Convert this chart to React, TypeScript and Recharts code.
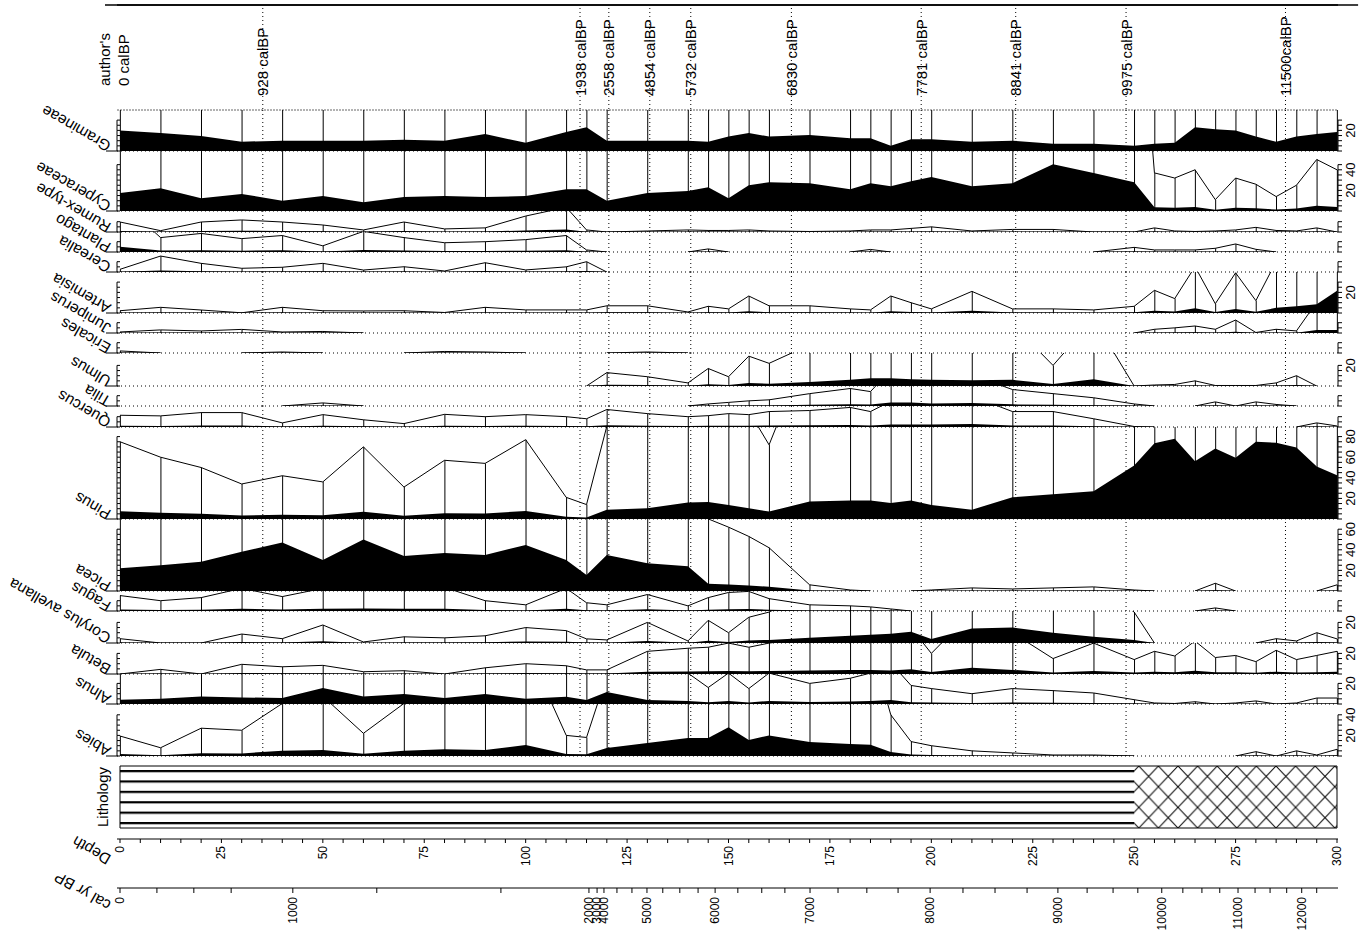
import React from "react";
import {
  ComposedChart,
  Area,
  Bar,
  Line,
  Scatter,
  XAxis,
  YAxis,
  ReferenceLine,
  ReferenceArea,
} from "recharts";

const W = 1365;
const PX = 1.03; // pixels per percent, same for every taxon
const FONT = "'Liberation Sans', Arial, sans-serif";

// sample depths (cm)
const depths = [
  0, 10, 20, 30, 40, 50, 60, 70, 80, 90, 100, 110, 115, 120, 130, 140, 145, 150, 155, 160, 170,
  180, 185, 190, 195, 200, 210, 220, 230, 240, 250, 255, 260, 265, 270, 275, 280, 285, 290, 295, 300,
];

// pollen percentages per taxon, one value per depth
const gramineae = [20, 17.5, 14.5, 9, 10, 10, 10, 11, 10, 16.5, 8, 18.5, 23, 10, 10, 10, 9, 14, 17.5, 14, 15.5, 12.5, 12.5, 5, 11.5, 11.5, 9, 10, 7, 7, 5, 7, 8, 23, 21, 20, 14, 9, 14, 16.5, 18.5];
const cyperaceae = [17.5, 22, 12.5, 16.5, 10, 14.5, 8.5, 13.5, 14.5, 13.5, 14.5, 21, 21, 10, 17.5, 19.5, 23, 12.5, 25, 28, 27, 21, 27, 24, 29, 33, 24, 27, 45.5, 37, 28, 3.7, 3.2, 4.0, 1.1, 3.2, 2.6, 1.4, 2.5, 5.0, 4.0];
const rumex = [0.97, 0.13, 0.97, 1.17, 0.97, 0.68, 0.2, 0.97, 0.3, 0.4, 1.55, 2.4, 0.2, 0, 0.1, 0.2, 0.15, 0.15, 0.2, 0.1, 0.05, 0.1, 0.2, 0.2, 0.35, 0.5, 0.1, 0.25, 0.25, 0, 0, 0.4, 0.1, 0.05, 0.1, 0.2, 0.45, 0.15, 0.1, 0.4, 0];
const plantago = [5, 1.4, 1.8, 1.3, 1.6, 0.6, 2.0, 1.4, 0.9, 1.0, 1.2, 1.6, 0.2, 0, 0, 0, 0.3, 0, 0, 0, 0, 0, 0.25, 0, 0, 0, 0, 0, 0, 0, 0.45, 0.2, 0.2, 0.2, 0.36, 0.78, 0.26, 0, 0, 0, 0];
const cerealia = [0.26, 1.55, 0.84, 0.36, 0.46, 0.84, 0.19, 0.51, 0.1, 0.9, 0.2, 0.5, 1.0, 0, 0, 0, 0, 0, 0, 0, 0, 0, 0, 0, 0, 0, 0, 0, 0, 0, 0, 0, 0, 0, 0, 0, 0, 0, 0, 0, 0];
const artemisia = [0.22, 0.55, 0.29, 0.02, 0.55, 0.22, 0.2, 0.22, 0.05, 0.55, 0.3, 0.3, 0.3, 0.7, 0.7, 0.1, 0.65, 0.4, 1.65, 0.7, 0.7, 0.4, 0.3, 1.65, 1.0, 0.4, 2.1, 0.4, 0.4, 0.3, 0.65, 2.2, 1.4, 4.5, 0.9, 3.9, 1.2, 5, 6.5, 8.5, 21.6];
const juniperus = [0.1, 0.3, 0.2, 0.35, 0.1, 0.15, 0, 0, 0, 0, 0, 0, 0, 0, 0, 0, 0, 0, 0, 0, 0, 0, 0, 0, 0, 0, 0, 0, 0, 0, 0, 0.36, 0.5, 0.68, 0.36, 1.26, 0.05, 0.36, 0.2, 3, 3];
const ericales = [0.2, 0, 0, 0, 0.1, 0, 0, 0, 0.15, 0.1, 0, 0, 0, 0, 0.1, 0, 0, 0, 0, 0, 0, 0, 0, 0, 0, 0, 0, 0, 0, 0, 0, 0, 0, 0, 0, 0, 0, 0, 0, 0, 0];
const ulmus = [0, 0, 0, 0, 0, 0, 0, 0, 0, 0, 0, 0, 0, 1.3, 0.9, 0.3, 1.7, 0.9, 2.9, 2.2, 4, 6, 7.5, 7.5, 6.5, 6, 5.5, 6, 2.0, 6.5, 0, 0.1, 0.15, 0.5, 0.05, 0.05, 0.05, 0.3, 1.0, 0, 0];
const tilia = [0, 0, 0, 0, 0, 0.3, 0, 0, 0, 0, 0, 0, 0, 0, 0, 0, 0.2, 0.35, 0.5, 0.6, 1.2, 1.7, 1.4, 3.5, 3.5, 2.5, 3, 1.6, 1.2, 0.8, 0.2, 0, 0, 0, 0.4, 0, 0.4, 0.15, 0, 0, 0];
const quercus = [1.14, 1.08, 1.4, 1.4, 0.4, 1.2, 0.7, 0.33, 1.23, 1.0, 1.2, 1.0, 0.8, 1.7, 1.3, 1.0, 1.1, 1.3, 1.2, 1.5, 1.6, 1.9, 1.5, 2.5, 2.5, 2.5, 3, 1.5, 1.5, 0.8, 0.05, 0, 0, 0, 0, 0, 0, 0, 0, 0.4, 0.1];
const pinus = [7.5, 6.0, 5.0, 3.4, 4.2, 3.6, 7.0, 3.1, 5.7, 5.4, 7.7, 2.1, 1.4, 9, 10.5, 16, 16.5, 13.5, 10.5, 7.2, 17, 18, 18, 15.5, 18, 13.5, 9, 21, 24, 27, 52, 73.5, 78, 56, 68.5, 59.5, 75, 74, 69.5, 51, 42.5];
const picea = [22, 25, 28.5, 38, 47, 30, 50, 34, 37, 35, 44.7, 30, 15.5, 35, 27, 24, 7, 6.2, 5.3, 4.2, 0.6, 0.1, 0, 0, 0, 0.1, 0.3, 0.2, 0.3, 0.4, 0.1, 0, 0, 0, 0.75, 0, 0, 0, 0, 0, 0.6];
const fagus = [1.5, 1.0, 1.3, 2.2, 1.4, 2.2, 2.4, 2.3, 2.3, 1.0, 0.6, 2.2, 0.8, 0.6, 1.6, 0.5, 1.3, 1.8, 1.9, 1.2, 0.6, 0.5, 0.4, 0.2, 0, 0, 0, 0, 0, 0, 0, 0, 0, 0, 0.3, 0, 0, 0, 0, 0, 0];
const corylus = [0.42, 0, 0, 0.87, 0.42, 1.75, 0.1, 0.6, 0.5, 0.7, 1.5, 1.2, 0.4, 0.3, 2.0, 0.2, 2.2, 1.0, 2.5, 3, 5, 7, 8, 9, 11, 4, 14, 15, 10, 6, 3, 0, 0, 0, 0, 0, 0, 0.42, 0.2, 1.0, 0.4];
const betula = [0, 0.45, 0, 0.94, 0.7, 0.84, 0.22, 0.32, 0, 0.6, 1.0, 0.8, 0.4, 0.4, 2.2, 2.5, 2.6, 3, 2.6, 3, 3.5, 4, 4, 3.5, 4.5, 2, 6, 4, 1.5, 3, 1.4, 2.2, 1.75, 3.2, 1.6, 1.8, 1.2, 2.3, 1.4, 1.8, 2.2];
const alnus = [4.2, 5.1, 7.4, 6.4, 5.8, 15.5, 7.4, 9.7, 5.8, 9.7, 5, 7, 4, 11.6, 4, 3, 1.6, 3, 1.5, 3, 2, 2.5, 3, 4, 1.8, 1.5, 1.0, 1.5, 1.3, 1.07, 0.42, 0.1, 0.05, 0.22, 0, 0.1, 0.3, 0, 0.1, 0.58, 0.58];
const abies = [1.94, 0.8, 2.7, 2.5, 5.1, 5.8, 2.2, 5.1, 6.5, 5.8, 10.7, 2.0, 1.8, 7.8, 12.6, 17.5, 17.5, 28, 15.5, 20, 13.6, 11.6, 11, 4, 1.4, 1.0, 0.5, 0.3, 0.1, 0.1, 0, 0, 0, 0, 0, 0, 0.42, 0, 0.5, 0.1, 0.65];

// dated levels
const dateDepths = [35.2, 113.4, 120.5, 130.6, 140.7, 165.5, 197.5, 220.8, 248.0, 287.3];
const dateLabels = ["928 calBP", "1938 calBP", "2558 calBP", "4854 calBP", "5732 calBP", "6830 calBP", "7781 calBP", "8841 calBP", "9975 calBP", "11500calBP"];

// lithology units: boundaries (cm) and fill kind
const lithoBounds = [0, 250, 300];
const lithoKinds = ["lines", "cross"];

// depth axis ticks
const depthTicks = Array.from({ length: 61 }, (_, i) => i * 5);

// cal yr BP axis, tick positions given in depth
const calTickDepths = [0, 9.1, 18.2, 27.4, 42.6, 63.3, 93.9, 115.6, 117.6, 119.3, 122.5, 126.2, 129.9, 133.8, 138.0, 142.5, 146.7, 152.3, 158.2, 163.9, 170.1, 177.0, 184.1, 191.8, 199.7, 207.8, 215.7, 223.6, 231.2, 238.4, 244.8, 250.9, 256.8, 262.0, 266.7, 271.1, 275.6, 279.8, 283.5, 287.6, 291.3, 295.0];
const calTickLabels = ["0", "", "", "", "1000", "", "", "2000", "3000", "4000", "", "", "5000", "", "", "", "6000", "", "", "", "7000", "", "", "", "8000", "", "", "", "9000", "", "", "", "10000", "", "", "", "11000", "", "", "", "12000", ""];

// panel layout (page y of top/bottom) and left axis extent
const panels = [
  { name: "Gramineae", values: gramineae, top: 110, bottom: 151, axisMax: 30 },
  { name: "Cyperaceae", values: cyperaceae, top: 151, bottom: 211, axisMax: 45 },
  { name: "Rumex-type", values: rumex, top: 211, bottom: 232, axisMax: 10 },
  { name: "Plantago", values: plantago, top: 232, bottom: 252, axisMax: 10 },
  { name: "Cerealia", values: cerealia, top: 252, bottom: 272, axisMax: 10 },
  { name: "Artemisia", values: artemisia, top: 272, bottom: 313, axisMax: 30 },
  { name: "Juniperus", values: juniperus, top: 313, bottom: 333, axisMax: 10 },
  { name: "Ericales", values: ericales, top: 333, bottom: 353, axisMax: 10 },
  { name: "Ulmus", values: ulmus, top: 353, bottom: 386, axisMax: 20 },
  { name: "Tilia", values: tilia, top: 386, bottom: 406, axisMax: 10 },
  { name: "Quercus", values: quercus, top: 406, bottom: 427, axisMax: 10 },
  { name: "Pinus", values: pinus, top: 427, bottom: 519, axisMax: 80 },
  { name: "Picea", values: picea, top: 519, bottom: 591, axisMax: 60 },
  { name: "Fagus", values: fagus, top: 591, bottom: 611, axisMax: 10 },
  { name: "Corylus avellana", values: corylus, top: 611, bottom: 643, axisMax: 20 },
  { name: "Betula", values: betula, top: 643, bottom: 674, axisMax: 20 },
  { name: "Alnus", values: alnus, top: 674, bottom: 704, axisMax: 20 },
  { name: "Abies", values: abies, top: 704, bottom: 756, axisMax: 40 },
];

const depthRows = depths.map((depth) => ({ depth }));
const xPad = { left: 3, right: 1 };

// upside-down, slanted name; (x, y) is where the first letter sits
function upsideLabel(text: string, x: number, y: number) {
  return (
    <g>
      <text
        x={x}
        y={y}
        transform={`rotate(210 ${x} ${y})`}
        fontSize={15.5}
        fontFamily={FONT}
        fill="#000"
      >
        {text}
      </text>
    </g>
  );
}

function Panel({ name, values, top, bottom, axisMax }: { name: string; values: number[]; top: number; bottom: number; axisMax: number }) {
  const h = bottom - top;
  const max = h / PX;
  const step = 5 * PX;
  const data = depths.map((depth, i) => {
    const v = values[i];
    const near = v > 0 || (values[i - 1] ?? 0) > 0 || (values[i + 1] ?? 0) > 0;
    return {
      depth,
      value: v,
      exag: near ? v * 10 : null,
      base: near ? 0 : null,
      stem: Math.min(v * 10, max),
    };
  });
  const ticks: number[] = [];
  for (let t = 0; t <= axisMax; t += 5) ticks.push(t);

  const leftTick = (p: any) => {
    const { x, y, payload } = p;
    const v = payload.value;
    return (
      <g stroke="#000" strokeWidth={1}>
        <line x1={x} x2={x + 3} y1={y} y2={y} />
        {v > 0 && <line x1={x} x2={x} y1={y} y2={y + step} />}
        {v === 0 && <line x1={x - 11} x2={x} y1={y} y2={y} />}
      </g>
    );
  };
  const rightTick = (p: any) => {
    const { x, y, payload } = p;
    const v = payload.value;
    return (
      <g>
        <line x1={x} x2={x + 4} y1={y} y2={y} stroke="#000" />
        {v > 0 && <line x1={x} x2={x} y1={y} y2={y + step} stroke="#000" />}
        {v > 0 && v % 20 === 0 && (
          <text
            x={x + 13}
            y={y}
            transform={`rotate(-90 ${x + 13} ${y})`}
            textAnchor="middle"
            dominantBaseline="central"
            fontSize={13}
            fontFamily={FONT}
            fill="#000"
          >
            {v}
          </text>
        )}
      </g>
    );
  };

  return (
    <div style={{ position: "absolute", left: 0, top }}>
      <ComposedChart width={W} height={h} data={data} margin={{ top: 0, right: 0, bottom: 0, left: 0 }}>
        <XAxis type="number" dataKey="depth" domain={[0, 300]} ticks={[0, 100, 200, 300]} padding={xPad} hide />
        <YAxis
          yAxisId="l"
          orientation="left"
          width={117}
          domain={[0, max]}
          ticks={ticks}
          interval={0}
          allowDataOverflow
          axisLine={false}
          tickLine={false}
          tickSize={0}
          tickMargin={0}
          tick={leftTick}
          label={{ content: () => upsideLabel(name, 112, h - 8) }}
        />
        <YAxis
          yAxisId="r"
          orientation="right"
          width={27}
          domain={[0, max]}
          ticks={ticks}
          interval={0}
          allowDataOverflow
          axisLine={false}
          tickLine={false}
          tickSize={0}
          tickMargin={0}
          tick={rightTick}
        />
        {dateDepths.map((d) => (
          <ReferenceLine key={d} x={d} yAxisId="l" stroke="#000" strokeDasharray="1 3" />
        ))}
        <ReferenceLine y={0} yAxisId="l" stroke="#000" strokeDasharray="1 3" />
        <Area yAxisId="l" type="linear" dataKey="value" fill="#000" fillOpacity={1} stroke="none" isAnimationActive={false} />
        <Bar yAxisId="l" dataKey="stem" barSize={1} fill="#000" isAnimationActive={false} />
        <Line yAxisId="l" type="linear" dataKey="exag" stroke="#000" strokeWidth={1} dot={false} connectNulls={false} isAnimationActive={false} />
        <Line yAxisId="l" type="linear" dataKey="base" stroke="#000" strokeWidth={1} dot={false} connectNulls={false} isAnimationActive={false} />
      </ComposedChart>
    </div>
  );
}

const DateMark = (p: any) => {
  const { cx, cy, payload } = p;
  return (
    <g>
      <line x1={cx} x2={cx} y1={8} y2={cy} stroke="#000" strokeDasharray="1 3" />
      <text
        x={cx}
        y={96}
        transform={`rotate(-90 ${cx} 96)`}
        dominantBaseline="central"
        fontSize={15}
        fontFamily={FONT}
        fill="#000"
      >
        {payload.label}
      </text>
    </g>
  );
};

const OriginMark = (p: any) => {
  const { cx } = p;
  return (
    <g fontSize={15} fontFamily={FONT} fill="#000">
      <text x={cx - 16} y={86} transform={`rotate(-90 ${cx - 16} 86)`} dominantBaseline="central">
        author's
      </text>
      <text x={cx + 3} y={86} transform={`rotate(-90 ${cx + 3} 86)`} dominantBaseline="central">
        0 calBP
      </text>
    </g>
  );
};

function Header() {
  const dates = dateDepths.map((depth, i) => ({ depth, level: 0, label: dateLabels[i] }));
  return (
    <div style={{ position: "absolute", left: 0, top: 0 }}>
      <ComposedChart width={W} height={111} data={depthRows} margin={{ top: 0, right: 27, bottom: 0, left: 117 }}>
        <XAxis
          xAxisId="top"
          orientation="top"
          type="number"
          dataKey="depth"
          domain={[0, 300]}
          padding={xPad}
          height={5}
          tick={false}
          tickLine={false}
          axisLine={{ stroke: "#000", strokeWidth: 1.5 }}
        />
        <XAxis
          xAxisId="bot"
          orientation="bottom"
          type="number"
          dataKey="depth"
          domain={[0, 300]}
          padding={xPad}
          height={1}
          tick={false}
          tickLine={false}
          axisLine={{ stroke: "#666", strokeDasharray: "2 1" }}
        />
        <YAxis yAxisId="h" domain={[0, 1]} hide />
        <ReferenceLine
          xAxisId="top"
          yAxisId="h"
          segment={[{ x: -3.7, y: 1 }, { x: 305.2, y: 1 }]}
          ifOverflow="visible"
          stroke="#000"
          strokeWidth={1.5}
        />
        <Scatter xAxisId="top" yAxisId="h" data={dates} dataKey="level" shape={DateMark} isAnimationActive={false} />
        <Scatter
          xAxisId="top"
          yAxisId="h"
          data={[{ depth: 0, level: 0 }]}
          dataKey="level"
          shape={OriginMark}
          isAnimationActive={false}
        />
      </ComposedChart>
    </div>
  );
}

function Lithology() {
  const rows = lithoBounds.map((depth, i) => {
    const row: Record<string, number> = { depth };
    lithoKinds.forEach((k, j) => {
      if (i === j || i === j + 1) row[k] = 1;
    });
    return row;
  });
  return (
    <div style={{ position: "absolute", left: 0, top: 766 }}>
      <ComposedChart width={W} height={62} data={rows} margin={{ top: 0, right: 27, bottom: 0, left: 0 }}>
        <defs>
          <pattern id="lithoLines" patternUnits="userSpaceOnUse" width={8} height={10.4} y={4}>
            <rect x={0} y={0} width={8} height={2.2} fill="#000" />
          </pattern>
          <pattern id="lithoCross" patternUnits="userSpaceOnUse" width={19.6} height={20.7} x={2}>
            <path d="M0 0 L19.6 20.7 M19.6 0 L0 20.7" stroke="#000" strokeWidth={1} fill="none" />
          </pattern>
        </defs>
        <XAxis type="number" dataKey="depth" domain={[0, 300]} ticks={[0, 100, 200, 300]} padding={xPad} hide />
        <YAxis
          yAxisId="lith"
          width={117}
          domain={[0, 1]}
          tick={false}
          axisLine={false}
          tickLine={false}
          label={{
            content: () => (
              <g>
                <text
                  x={102}
                  y={31}
                  transform="rotate(-90 102 31)"
                  textAnchor="middle"
                  dominantBaseline="central"
                  fontSize={15}
                  fontFamily={FONT}
                  fill="#000"
                >
                  Lithology
                </text>
              </g>
            ),
          }}
        />
        <Area yAxisId="lith" type="linear" dataKey="lines" fill="url(#lithoLines)" fillOpacity={1} stroke="none" connectNulls={false} isAnimationActive={false} />
        <Area yAxisId="lith" type="linear" dataKey="cross" fill="url(#lithoCross)" fillOpacity={1} stroke="none" connectNulls={false} isAnimationActive={false} />
        <ReferenceArea yAxisId="lith" x1={0} x2={300} y1={0} y2={1} fill="none" stroke="#000" strokeWidth={1} />
      </ComposedChart>
    </div>
  );
}

function DepthAxis() {
  const tick = (p: any) => {
    const { x, y, payload } = p;
    const v = payload.value;
    if (v % 25 !== 0) return <g />;
    return (
      <g>
        <text
          x={x}
          y={y + 1}
          transform={`rotate(-90 ${x} ${y + 1})`}
          textAnchor="end"
          dominantBaseline="central"
          fontSize={12}
          fontFamily={FONT}
          fill="#000"
        >
          {v}
        </text>
      </g>
    );
  };
  return (
    <div style={{ position: "absolute", left: 0, top: 829 }}>
      <ComposedChart width={W} height={45} data={depthRows} margin={{ top: 0, right: 27, bottom: 0, left: 117 }}>
        <XAxis
          type="number"
          dataKey="depth"
          domain={[0, 300]}
          padding={xPad}
          ticks={depthTicks}
          interval={0}
          height={35}
          tickSize={4}
          tickMargin={2}
          axisLine={{ stroke: "#000" }}
          tickLine={{ stroke: "#000" }}
          tick={tick}
          label={{ content: () => upsideLabel("Depth", 112, 27) }}
        />
        <YAxis domain={[0, 1]} hide />
      </ComposedChart>
    </div>
  );
}

function CalAxis() {
  const tick = (p: any) => {
    const { x, y, payload } = p;
    const label = calTickLabels[calTickDepths.indexOf(payload.value)];
    if (!label) return <g />;
    return (
      <g>
        <text
          x={x}
          y={y + 2}
          transform={`rotate(-90 ${x} ${y + 2})`}
          textAnchor="end"
          dominantBaseline="central"
          fontSize={12}
          fontFamily={FONT}
          fill="#000"
        >
          {label}
        </text>
      </g>
    );
  };
  return (
    <div style={{ position: "absolute", left: 0, top: 878 }}>
      <ComposedChart width={W} height={60} data={depthRows} margin={{ top: 0, right: 27, bottom: 0, left: 117 }}>
        <XAxis
          type="number"
          dataKey="depth"
          domain={[0, 300]}
          padding={xPad}
          ticks={calTickDepths}
          interval={0}
          height={50}
          tickSize={5}
          tickMargin={2}
          axisLine={{ stroke: "#000" }}
          tickLine={{ stroke: "#000" }}
          tick={tick}
          label={{ content: () => upsideLabel("cal yr BP", 112, 24) }}
        />
        <YAxis domain={[0, 1]} hide />
      </ComposedChart>
    </div>
  );
}

export default function App() {
  return (
    <div style={{ position: "absolute", left: 0, top: 0, width: W, height: 945, background: "#fff", fontFamily: FONT }}>
      <style>{".recharts-surface{overflow:visible}"}</style>
      <Header />
      {panels.map((p) => (
        <Panel key={p.name} {...p} />
      ))}
      <Lithology />
      <DepthAxis />
      <CalAxis />
    </div>
  );
}
